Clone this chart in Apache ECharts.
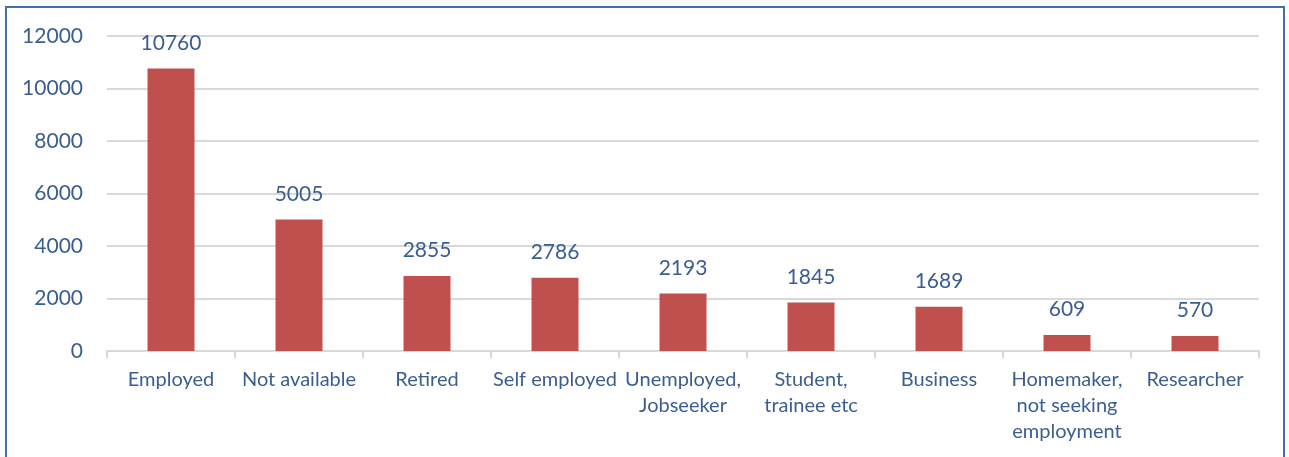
<!DOCTYPE html>
<html>
<head>
<meta charset="utf-8">
<script src="https://cdn.jsdelivr.net/npm/echarts@6/dist/echarts.min.js"></script>
<style>
  html, body { margin: 0; padding: 0; background: #fff; }
  #frame { position: absolute; left: 5px; top: 6px; width: 1280px; height: 470px; border: 2px solid #4472a8; box-sizing: border-box; }
  #chart { position: absolute; left: 0; top: 0; width: 1289px; height: 457px; }
</style>
</head>
<body>
<div id="frame"></div>
<div id="chart"></div>
<script>
const categories = ['Employed', 'Not available', 'Retired', 'Self employed', 'Unemployed,\nJobseeker', 'Student,\ntrainee etc', 'Business', 'Homemaker,\nnot seeking\nemployment', 'Researcher']
const values = [10760, 5005, 2855, 2786, 2193, 1845, 1689, 609, 570]

const chart = echarts.init(document.getElementById('chart'))
const textColor = '#3b5e91'
const font = 'Lato, "Open Sans", sans-serif'

chart.setOption({
  animation: false,
  grid: { left: 107, right: 30, top: 36, bottom: 106, containLabel: false },
  xAxis: {
    type: 'category',
    data: categories,
    axisLine: { lineStyle: { color: '#d9d9d9', width: 2 } },
    axisTick: { show: true, length: 7, lineStyle: { color: '#d9d9d9', width: 2 } },
    axisLabel: { color: textColor, fontSize: 20, fontFamily: font, margin: 16, lineHeight: 26, interval: 0 }
  },
  yAxis: {
    type: 'value',
    min: 0,
    max: 12000,
    interval: 2000,
    axisLine: { show: false },
    axisTick: { show: false },
    axisLabel: { color: textColor, fontSize: 21, fontFamily: font, margin: 24, formatter: v => String(v) },
    splitLine: { lineStyle: { color: '#d9d9d9', width: 2 } }
  },
  series: [{
    type: 'bar',
    data: values,
    barWidth: 47,
    itemStyle: { color: '#c0504d' },
    label: { show: true, position: 'top', distance: 15, color: textColor, fontSize: 21, fontFamily: font }
  }]
})
</script>
</body>
</html>
